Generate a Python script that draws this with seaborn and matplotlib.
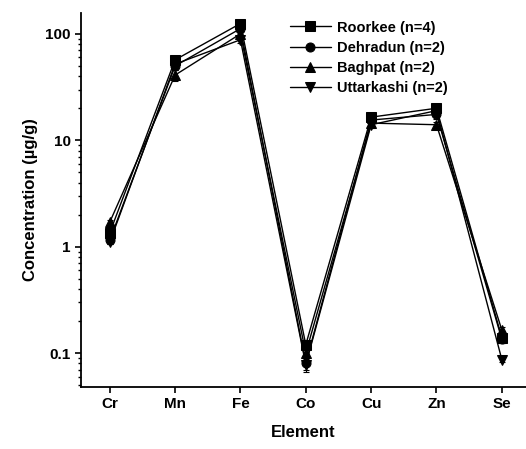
import matplotlib
matplotlib.use("Agg")
import matplotlib.pyplot as plt
import seaborn as sns
import pandas as pd
import numpy as np

elements = ["Cr", "Mn", "Fe", "Co", "Cu", "Zn", "Se"]
series_names = ["Roorkee (n=4)", "Dehradun (n=2)", "Baghpat (n=2)", "Uttarkashi (n=2)"]
roorkee = [1.35, 57, 125, 0.12, 16.5, 20, 0.14]
dehradun = [1.15, 50, 112, 0.08, 15.5, 17.5, 0.135]
baghpat = [1.7, 41, 100, 0.10, 14.5, 14, 0.165]
uttarkashi = [1.1, 52, 88, 0.078, 14, 19, 0.087]
roorkee_err = [0.1, 5, 10, 0.01, 1, 1.5, 0.015]
dehradun_err = [0.1, 4, 8, 0.013, 1, 1.5, 0.01]
baghpat_err = [0.1, 5, 8, 0.01, 1, 1, 0.01]
uttarkashi_err = [0.05, 4, 6, 0.008, 1, 1.5, 0.005]

values = [roorkee, dehradun, baghpat, uttarkashi]
errors = [roorkee_err, dehradun_err, baghpat_err, uttarkashi_err]
markers = ["s", "o", "^", "v"]

rows = []
for name, vals in zip(series_names, values):
    for i, (el, v) in enumerate(zip(elements, vals)):
        rows.append({"Element": el, "x": i, "Concentration": v, "Site": name})
df = pd.DataFrame(rows)

sns.set_style("ticks")
plt.rcParams["font.family"] = ["Liberation Sans", "DejaVu Sans"]
plt.rcParams["font.weight"] = "bold"
plt.rcParams["text.color"] = "black"
plt.rcParams["axes.labelcolor"] = "black"

fig = plt.figure(figsize=(5.26, 4.49), dpi=100)
ax = fig.add_axes([0.154, 0.138, 0.846, 0.833])

sns.lineplot(data=df, x="x", y="Concentration", hue="Site", style="Site",
             markers=dict(zip(series_names, markers)),
             dashes=False, palette=["black"] * 4, hue_order=series_names,
             style_order=series_names, linewidth=1.0, markersize=6.5,
             markeredgecolor="black", ax=ax)
for vals, errs in zip(values, errors):
    ax.errorbar(range(len(elements)), vals, yerr=errs, fmt="none",
                ecolor="black", elinewidth=0.8, capsize=2.5, capthick=0.8)

ax.set_yscale("log")
ax.set_ylim(0.048, 157)
ax.set_xlim(-0.44, 6.37)
ax.set_xticks(range(len(elements)))
ax.set_xticklabels(elements, fontsize=11, fontweight="bold", color="black")
ax.set_yticks([0.1, 1, 10, 100])
ax.set_yticklabels(["0.1", "1", "10", "100"], fontsize=11, fontweight="bold", color="black")
ax.set_xlabel("Element", fontsize=12, fontweight="bold", labelpad=10, color="black")
ax.set_ylabel("Concentration (\u00b5g/g)", fontsize=12, fontweight="bold", labelpad=5, color="black")
ax.tick_params(axis="both", which="major", direction="out", length=4, width=1.2, colors="black")
ax.tick_params(axis="y", which="minor", direction="out", length=2.5, width=1, colors="black")
for s in ["left", "bottom"]:
    ax.spines[s].set_linewidth(1.3)
    ax.spines[s].set_color("black")
sns.despine(ax=ax)

leg = ax.legend(loc="upper left", bbox_to_anchor=(0.44, 1.015), frameon=False,
                prop={"weight": "bold", "size": 10.5}, handlelength=2.8,
                handletextpad=0.4, labelspacing=0.42)

fig.savefig("out.png", dpi=100)
